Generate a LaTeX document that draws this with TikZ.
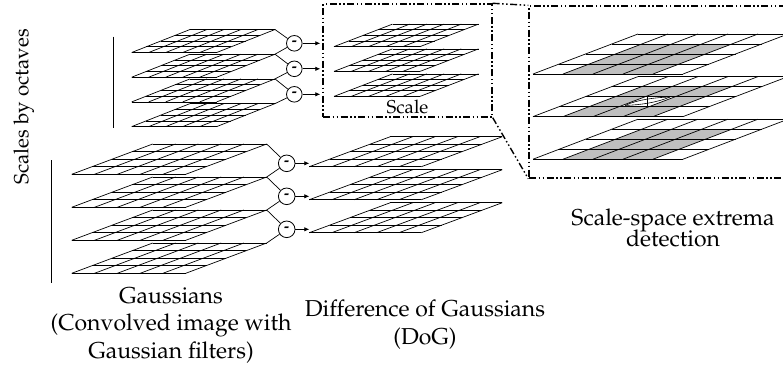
\documentclass[tikz,border=0pt]{standalone}
\usepackage[T1]{fontenc}
\usepackage{mathpazo}
\usetikzlibrary{arrows.meta}

% One sheared 5x4 grid layer: name, x, bottom y, width, height, shear
\newcommand\gridlayer[6]{%
  \coordinate (#1-bl) at (#2,#3);
  \coordinate (#1-tr) at ({#2+#6+#4},{#3-#5});
  \foreach \ri in {0,...,4}
    \draw[gridline] ({#2+\ri*#6/4},{#3-\ri*#5/4}) -- ++(#4,0);
  \foreach \ci in {0,...,5}
    \draw[gridline] ({#2+\ci*#4/5},#3) -- ++(#6,-#5);
}
% Grey 3x3 neighbourhood (columns 2-4, lower three rows) of a layer
\newcommand\neighbourhood[5]{%
  \fill[cellgray] ({#1+.2*#3},#2) -- ({#1+.8*#3},#2)
    -- ({#1+.8*#3+.75*#5},{#2-.75*#4}) -- ({#1+.2*#3+.75*#5},{#2-.75*#4}) -- cycle;
}

\begin{document}
\begin{tikzpicture}[x=1pt,y=-1pt,
  gridline/.style={line width=0.7pt},
  zoomframe/.style={draw, line width=1.4pt,
    dash pattern=on 7pt off 2.5pt on 1.5pt off 2.5pt on 1.5pt off 2.5pt},
  minus/.style={circle, draw, line width=0.8pt, inner sep=0pt,
    font=\fontsize{15}{15}\bfseries\selectfont},
  feed/.style={line width=0.7pt},
  arr/.style={line width=0.8pt, -{Latex[length=5pt,width=4.5pt]}},
  lbltext/.style={font=\fontsize{23}{27}\selectfont, anchor=base, inner sep=0pt},
  bar/.style={line width=0.8pt},
]
\colorlet{cellgray}{black!25}
\useasboundingbox (0,0) rectangle (783,365);

% ---- upper octave: Gaussians ----
\gridlayer{sg1}{131.7}{52.5}{85}{23}{58.3}
\gridlayer{sg2}{131.7}{77.2}{85}{23}{58.3}
\gridlayer{sg3}{131.7}{101.9}{85}{23}{58.3}
\gridlayer{sg4}{131.7}{126.6}{85}{23}{58.3}

% ---- upper octave: DoG inside the framed region ----
\gridlayer{sd1}{334}{46.6}{86}{22.5}{58.5}
\gridlayer{sd2}{334}{71.4}{86}{22.5}{58.5}
\gridlayer{sd3}{334}{96.4}{86}{22.5}{58.5}
\node[zoomframe, minimum width=169pt, minimum height=113pt, inner sep=0pt]
  (dbox) at (407.5,60.5) {};
\node[font=\fontsize{18.6}{20}\selectfont, anchor=base, inner sep=0pt]
  (scale) at (407.5,113.3) {Scale};

% ---- lower octave: Gaussians ----
\gridlayer{bg1}{71.7}{174.3}{114}{30.3}{81}
\gridlayer{bg2}{71.7}{207.3}{114}{30.3}{81}
\gridlayer{bg3}{71.7}{240.3}{114}{30.3}{81}
\gridlayer{bg4}{71.7}{273.3}{114}{30.3}{81}

% ---- lower octave: DoG ----
\gridlayer{bd1}{309.3}{166.7}{112}{30}{81}
\gridlayer{bd2}{309.3}{199.7}{112}{30}{81}
\gridlayer{bd3}{309.3}{232.7}{112}{30}{81}

% ---- magnified DoG layers with the 3x3x3 neighbourhood ----
\neighbourhood{533}{74}{150}{40}{105}
\neighbourhood{533}{116.6}{150}{40}{105}
\neighbourhood{533}{159.2}{150}{40}{105}
\fill[white] (619.25,106.6) -- (649.25,106.6) -- (675.5,96.6) -- (645.5,96.6) -- cycle;
\gridlayer{rs1}{533}{74}{150}{40}{105}
\gridlayer{rs2}{533}{116.6}{150}{40}{105}
\gridlayer{rs3}{533}{159.2}{150}{40}{105}
% sample point in the centre cell
\coordinate (px-top) at (647.4,96.6);
\coordinate (px-bot) at (647.4,106.6);
\coordinate (px-l) at (625,105.4);
\coordinate (px-r) at (670,97);
\draw[line width=0.6pt] (px-top) -- (px-bot);
\draw[line width=0.6pt] (px-l) .. controls (638,99.5) and (655,97.5) .. (px-r);
\draw[line width=0.6pt] (px-l) .. controls (640,105) and (657,102.5) .. (px-r);

\node[zoomframe, minimum width=261pt, minimum height=172pt, inner sep=0pt]
  (zbox) at (659.5,92) {};
\draw[zoomframe] (dbox.north east) -- (zbox.north west);
\draw[zoomframe] (dbox.south east) -- (zbox.south west);

% ---- difference operators, upper octave ----
\node[minus, minimum size=15.6pt] (ga1) at (294.3,43.3) {-};
\node[minus, minimum size=15.6pt] (ga2) at (294.3,68.8) {-};
\node[minus, minimum size=15.6pt] (ga3) at (294.3,94.3) {-};
\draw[feed] (sg1-tr) -- (ga1);
\draw[feed] (sg2-tr) -- (ga1);
\draw[feed] (sg2-tr) -- (ga2);
\draw[feed] (sg3-tr) -- (ga2);
\draw[feed] (sg3-tr) -- (ga3);
\draw[feed] (sg4-tr) -- (ga3);
\draw[arr, shorten >=2pt] (ga1) -- (ga1 -| dbox.west);
\draw[arr, shorten >=2pt] (ga2) -- (ga2 -| dbox.west);
\draw[arr, shorten >=2pt] (ga3) -- (ga3 -| dbox.west);

% ---- difference operators, lower octave ----
\node[minus, minimum size=16.6pt] (gb1) at (286.7,163.3) {-};
\node[minus, minimum size=16.6pt] (gb2) at (286.7,196.3) {-};
\node[minus, minimum size=16.6pt] (gb3) at (286.7,229.3) {-};
\draw[feed] (bg1-tr) -- (gb1);
\draw[feed] (bg2-tr) -- (gb1);
\draw[feed] (bg2-tr) -- (gb2);
\draw[feed] (bg3-tr) -- (gb2);
\draw[feed] (bg3-tr) -- (gb3);
\draw[feed] (bg4-tr) -- (gb3);
\draw[arr] (gb1) -- (gb1 -| bd1-bl);
\draw[arr] (gb2) -- (gb2 -| bd2-bl);
\draw[arr] (gb3) -- (gb3 -| bd3-bl);

% ---- octave bars and captions ----
\coordinate (us-top) at (113.3,36.7);
\coordinate (us-bot) at (113.3,128.3);
\coordinate (ls-top) at (51.7,160);
\coordinate (ls-bot) at (51.7,283.3);
\draw[bar] (us-top) -- (us-bot);
\draw[bar] (ls-top) -- (ls-bot);
\node[font=\fontsize{20.5}{22}\selectfont, rotate=90, anchor=base, inner sep=0pt]
  (octaves) at (28.3,106.7) {Scales by octaves};

\node[lbltext] (gcap1) at (171,303) {Gaussians};
\node[lbltext] (gcap2) at (171,330.5) {(Convolved image with};
\node[lbltext] (gcap3) at (171,358) {Gaussian filters)};
\node[lbltext] (dcap1) at (425,316.5) {Difference of Gaussians};
\node[lbltext] (dcap2) at (425,344) {(DoG)};
\node[lbltext] (xcap1) at (673,225) {Scale-space extrema};
\node[lbltext] (xcap2) at (673,246.7) {detection};
\end{tikzpicture}
\end{document}
